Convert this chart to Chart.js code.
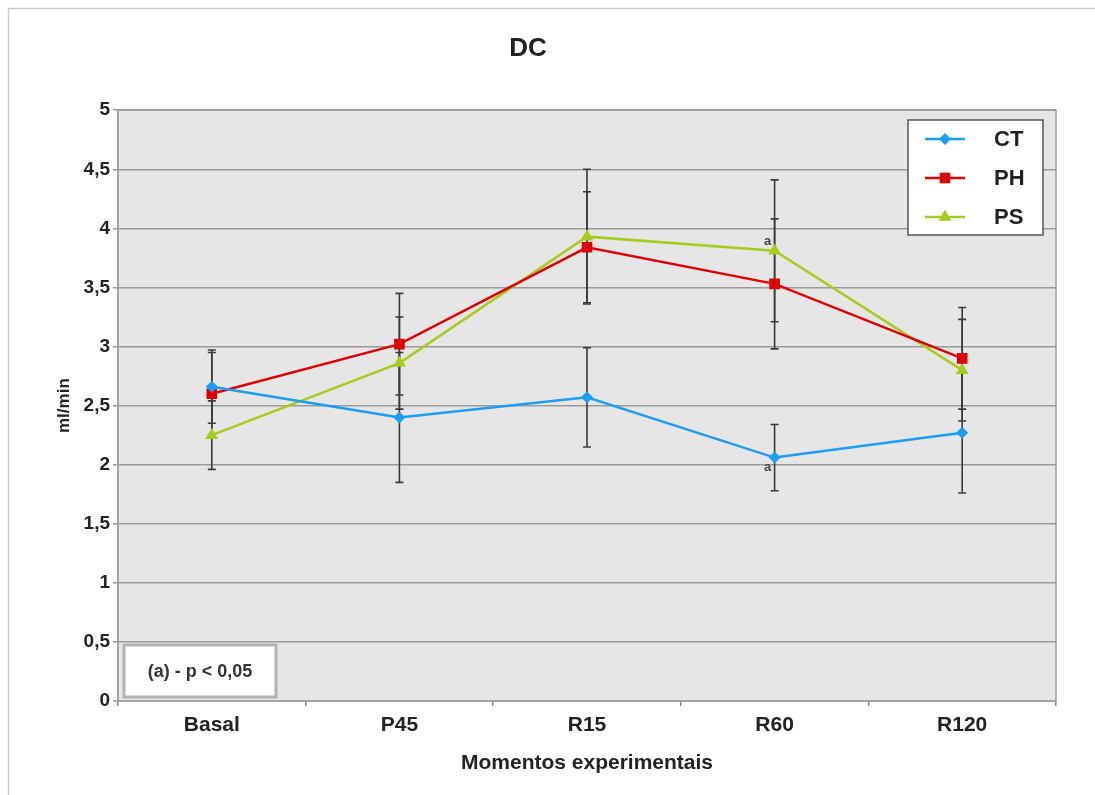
<!DOCTYPE html>
<html>
<head>
<meta charset="utf-8">
<script src="https://cdn.jsdelivr.net/npm/chart.js@4.4.0/dist/chart.umd.min.js"></script>
<style>
  body { margin: 0; background: #fff; }
  #wrap { width: 1095px; height: 795px; }
</style>
</head>
<body>
<div id="wrap"><canvas id="chart" width="1095" height="795"></canvas></div>
<script>
const categories = ['Basal', 'P45', 'R15', 'R60', 'R120']

const ct = [2.66, 2.40, 2.57, 2.06, 2.27]
const ph = [2.60, 3.02, 3.84, 3.53, 2.90]
const ps = [2.25, 2.86, 3.93, 3.81, 2.80]

// +/- error per point
const ctErr = [0.31, 0.55, 0.42, 0.28, 0.51]
const phErr = [0.35, 0.43, 0.47, 0.55, 0.43]
const psErr = [0.29, 0.39, 0.57, 0.60, 0.43]

// significance marks: [series index, category index, side]
const marks = [[2, 3, 'above'], [0, 3, 'below']]

const FONT = "'Liberation Sans', Arial, sans-serif"
const colors = ['#1c9cf2', '#dc0000', '#a6cc1e']

var errs = [ctErr, phErr, psErr]

const bgPlugin = {
  id: 'plotBg',
  beforeDraw(chart) {
    const { ctx, chartArea: a } = chart
    ctx.save()
    // outer frame
    ctx.strokeStyle = '#c8c8c8'
    ctx.lineWidth = 1.5
    ctx.strokeRect(8.5, 8.5, 1200, 1000)
    ctx.fillStyle = '#e6e6e6'
    ctx.fillRect(a.left, a.top, a.right - a.left, a.bottom - a.top)
    ctx.strokeStyle = '#a0a0a0'
    ctx.lineWidth = 1.5
    ctx.strokeRect(a.left, a.top, a.right - a.left, a.bottom - a.top)
    ctx.restore()
  }
}

const errorBars = {
  id: 'errorBars',
  beforeDatasetsDraw(chart) {
    const { ctx, scales: { x, y } } = chart
    ctx.save()
    ctx.strokeStyle = '#3a3a3a'
    ctx.lineWidth = 1.6
    chart.data.datasets.forEach((ds, i) => {
      ds.data.forEach((v, j) => {
        const px = x.getPixelForValue(j)
        const top = y.getPixelForValue(v + errs[i][j])
        const bot = y.getPixelForValue(v - errs[i][j])
        ctx.beginPath()
        ctx.moveTo(px, top); ctx.lineTo(px, bot)
        ctx.moveTo(px - 4, top); ctx.lineTo(px + 4, top)
        ctx.moveTo(px - 4, bot); ctx.lineTo(px + 4, bot)
        ctx.stroke()
      })
    })
    ctx.restore()
  }
}

const extras = {
  id: 'extras',
  afterDraw(chart) {
    const { ctx, chartArea: a, scales: { x, y } } = chart
    ctx.save()

    // "a" marks
    ctx.fillStyle = '#444'
    ctx.font = 'bold 13px ' + FONT
    ctx.textAlign = 'center'
    ctx.textBaseline = 'middle'
    marks.forEach(m => {
      const ds = chart.data.datasets[m[0]]
      const px = x.getPixelForValue(m[1]) - 7
      const py = y.getPixelForValue(ds.data[m[1]]) + (m[2] == 'above' ? -9 : 10)
      ctx.fillText('a', px, py)
    })

    // legend box
    const lx = 908, ly = 120, lw = 135, lh = 115
    ctx.fillStyle = '#fff'
    ctx.fillRect(lx, ly, lw, lh)
    ctx.strokeStyle = '#555'
    ctx.lineWidth = 1.5
    ctx.strokeRect(lx, ly, lw, lh)
    chart.data.datasets.forEach((ds, i) => {
      const cy = ly + 19 + i * 39
      ctx.strokeStyle = ds.borderColor
      ctx.lineWidth = 2.5
      ctx.beginPath()
      ctx.moveTo(lx + 17, cy); ctx.lineTo(lx + 57, cy)
      ctx.stroke()
      ctx.fillStyle = ds.backgroundColor
      Chart.helpers.drawPoint(ctx, {
        pointStyle: ds.pointStyle, radius: ds.pointRadius, rotation: 0, borderWidth: 0
      }, lx + 37, cy)
      ctx.fillStyle = '#222'
      ctx.font = 'bold 22px ' + FONT
      ctx.textAlign = 'left'
      ctx.textBaseline = 'middle'
      ctx.fillText(ds.label, lx + 86, cy + 1)
    })

    // note box
    const bx = 124, by = 645, bw = 152, bh = 52
    ctx.fillStyle = '#fff'
    ctx.fillRect(bx, by, bw, bh)
    ctx.strokeStyle = '#b4b4b4'
    ctx.lineWidth = 3
    ctx.strokeRect(bx, by, bw, bh)
    ctx.fillStyle = '#333'
    ctx.font = 'bold 18px ' + FONT
    ctx.textAlign = 'center'
    ctx.fillText('(a) - p < 0,05', bx + bw / 2, by + bh / 2 + 1)
    ctx.restore()
  }
}

function makeSet(label, data, color, style, radius) {
  return {
    label: label,
    data: data,
    borderColor: color,
    backgroundColor: color,
    borderWidth: 2.5,
    pointStyle: style,
    pointRadius: radius,
    pointHoverRadius: radius,
    pointBorderWidth: 0,
    tension: 0
  }
}

new Chart(document.getElementById('chart'), {
  type: 'line',
  data: {
    labels: categories,
    datasets: [
      makeSet('CT', ct, colors[0], 'rectRot', 6),
      makeSet('PH', ph, colors[1], 'rect', 7.5),
      makeSet('PS', ps, colors[2], 'triangle', 7.5)
    ]
  },
  options: {
    responsive: false,
    animation: false,
    layout: { padding: { top: 0, left: 0, right: 39, bottom: 0 } },
    plugins: {
      legend: { display: false },
      tooltip: { enabled: false },
      title: {
        display: true,
        text: 'DC',
        color: '#222',
        font: { family: FONT, size: 26, weight: 'bold' },
        padding: { top: 33, bottom: 46 }
      }
    },
    scales: {
      x: {
        offset: true,
        afterFit(scale) { scale.height = 94 },
        grid: { drawOnChartArea: false, drawTicks: true, tickLength: 5, offset: true, color: '#888', lineWidth: 1.5 },
        border: { display: true, color: '#a0a0a0', width: 1.5 },
        ticks: { color: '#222', padding: 7, font: { family: FONT, size: 21, weight: 'bold' } },
        title: {
          display: true,
          text: 'Momentos experimentais',
          color: '#222',
          font: { family: FONT, size: 21, weight: 'bold' },
          padding: { top: 0, bottom: 19 }
        }
      },
      y: {
        min: 0,
        max: 5,
        afterFit(scale) { scale.width = 118 },
        grid: { color: '#9a9a9a', lineWidth: 1.5, tickLength: 5 },
        border: { display: true, color: '#a0a0a0', width: 1.5 },
        ticks: {
          stepSize: 0.5,
          padding: 3,
          color: '#222',
          font: { family: FONT, size: 19, weight: 'bold' },
          callback: v => v.toString().replace('.', ',')
        },
        title: {
          display: true,
          text: 'ml/min',
          color: '#222',
          font: { family: FONT, size: 17, weight: 'bold' },
          padding: { top: 54, bottom: 0 }
        }
      }
    }
  },
  plugins: [bgPlugin, errorBars, extras]
})
</script>
</body>
</html>
